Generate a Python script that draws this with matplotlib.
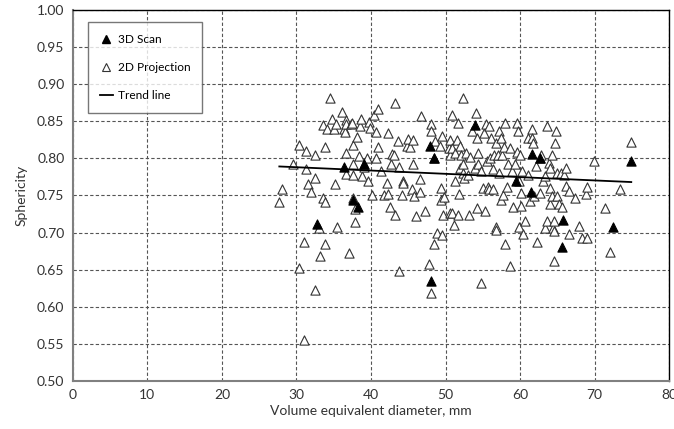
import matplotlib
matplotlib.use("Agg")
import matplotlib.pyplot as plt
from matplotlib.lines import Line2D

plt.rcParams['font.family'] = ['Lato', 'DejaVu Sans']

# 2D projection points (diameter mm, sphericity)
proj_x = [27.7, 28.1, 29.6, 30.3, 30.3, 31.0, 31.0, 31.3, 31.3, 31.5, 31.9, 32.5, 32.5, 32.5,
          33.0, 33.2, 33.5, 33.6, 33.8, 33.8, 33.8, 34.1, 34.5, 34.7, 35.0, 35.2, 35.3, 35.5,
          36.1, 36.4, 36.5, 36.6, 36.6, 36.7, 36.7, 37.1, 37.3, 37.5, 37.6, 37.6, 37.6, 37.6,
          37.8, 37.9, 38.1, 38.4, 38.5, 38.7, 38.8, 39.0, 39.1, 39.5, 39.6, 39.7, 39.8, 40.1,
          40.4, 40.7, 40.9, 41.0, 40.7, 41.4, 41.7, 42.1, 42.3, 42.3, 42.6, 42.7, 42.8, 43.1,
          43.2, 43.2, 43.6, 43.8, 43.8, 44.2, 44.3, 44.3, 44.8, 45.0, 45.2, 45.5, 45.6, 45.6,
          45.8, 46.0, 46.5, 46.6, 46.7, 47.2, 47.8, 48.0, 48.1, 48.1, 48.4, 48.4, 48.6, 48.9,
          49.2, 49.4, 49.4, 49.5, 49.5, 49.6, 49.8, 50.4, 50.6, 50.6, 50.6, 50.9, 50.9, 50.9,
          51.1, 51.2, 51.3, 51.5, 51.7, 51.7, 51.8, 51.9, 51.9, 52.1, 52.3, 52.4, 52.4, 52.5,
          52.7, 53.0, 53.1, 53.3, 53.5, 53.9, 54.1, 54.2, 54.2, 54.4, 54.4, 54.7, 54.8, 55.0,
          55.1, 55.3, 55.4, 55.5, 55.7, 55.8, 55.8, 55.9, 56.1, 56.3, 56.4, 56.5, 56.7, 56.7,
          56.8, 57.0, 57.2, 57.2, 57.4, 57.4, 57.5, 57.7, 57.8, 58.0, 58.0, 58.2, 58.4, 58.6,
          58.7, 58.9, 59.1, 59.3, 59.6, 59.6, 59.7, 59.8, 59.9, 60.0, 60.1, 60.1, 60.3, 60.4,
          60.6, 61.0, 61.1, 61.3, 61.6, 61.6, 61.7, 61.8, 62.1, 62.3, 62.6, 62.7, 62.8, 63.0,
          63.3, 63.3, 63.6, 63.6, 63.9, 64.0, 64.0, 64.0, 64.3, 64.3, 64.4, 64.5, 64.6, 64.6,
          64.7, 64.8, 64.9, 64.9, 65.2, 65.5, 65.6, 65.9, 66.2, 66.2, 66.5, 66.6, 67.3, 67.9,
          68.3, 68.8, 68.9, 69.0, 69.9, 71.4, 72.1, 73.4, 74.8]
proj_y = [0.741, 0.758, 0.792, 0.818, 0.652, 0.687, 0.555, 0.786, 0.810, 0.765, 0.754, 0.805, 0.774, 0.622,
          0.706, 0.668, 0.845, 0.747, 0.741, 0.684, 0.815, 0.839, 0.881, 0.853, 0.840, 0.766, 0.846, 0.708,
          0.863, 0.839, 0.836, 0.851, 0.807, 0.779, 0.846, 0.673, 0.846, 0.848, 0.818, 0.792, 0.777, 0.746,
          0.732, 0.714, 0.829, 0.803, 0.844, 0.853, 0.776, 0.788, 0.792, 0.800, 0.770, 0.849, 0.841, 0.751,
          0.858, 0.835, 0.867, 0.815, 0.801, 0.783, 0.751, 0.767, 0.834, 0.752, 0.735, 0.792, 0.806, 0.805,
          0.875, 0.724, 0.823, 0.788, 0.648, 0.750, 0.769, 0.767, 0.817, 0.826, 0.815, 0.758, 0.792, 0.824,
          0.749, 0.722, 0.772, 0.755, 0.857, 0.729, 0.658, 0.618, 0.846, 0.837, 0.801, 0.685, 0.823, 0.699,
          0.816, 0.760, 0.744, 0.830, 0.696, 0.724, 0.748, 0.814, 0.824, 0.804, 0.726, 0.858, 0.814, 0.726,
          0.710, 0.769, 0.807, 0.825, 0.847, 0.723, 0.752, 0.787, 0.816, 0.805, 0.780, 0.792, 0.881, 0.774,
          0.807, 0.778, 0.724, 0.802, 0.837, 0.787, 0.861, 0.827, 0.733, 0.792, 0.807, 0.632, 0.783, 0.760,
          0.834, 0.729, 0.846, 0.797, 0.762, 0.843, 0.758, 0.801, 0.827, 0.785, 0.758, 0.804, 0.820, 0.707,
          0.703, 0.805, 0.837, 0.780, 0.744, 0.827, 0.805, 0.750, 0.815, 0.848, 0.685, 0.762, 0.792, 0.655,
          0.814, 0.783, 0.734, 0.792, 0.847, 0.809, 0.837, 0.769, 0.707, 0.804, 0.753, 0.736, 0.783, 0.698,
          0.715, 0.827, 0.777, 0.743, 0.839, 0.827, 0.820, 0.749, 0.789, 0.687, 0.753, 0.800, 0.804, 0.769,
          0.776, 0.706, 0.844, 0.715, 0.794, 0.760, 0.738, 0.787, 0.805, 0.749, 0.706, 0.661, 0.702, 0.715,
          0.820, 0.837, 0.780, 0.749, 0.738, 0.780, 0.735, 0.778, 0.787, 0.763, 0.698, 0.756, 0.747, 0.709,
          0.692, 0.752, 0.693, 0.761, 0.797, 0.733, 0.674, 0.758, 0.822]

# 3D scan points
scan_x = [32.8, 36.4, 37.6, 38.3, 39.0, 47.9, 48.4, 48.0, 53.9, 59.4, 61.6, 61.4, 62.6, 65.8, 65.6, 72.5, 74.8]
scan_y = [0.712, 0.788, 0.744, 0.735, 0.792, 0.816, 0.800, 0.635, 0.845, 0.770, 0.806, 0.755, 0.801, 0.717,
          0.681, 0.707, 0.796]

# trend line end points
trend_x = [27.7, 74.9]
trend_y = [0.789, 0.768]

fig = plt.figure(figsize=(6.74, 4.29), dpi=100)
ax = fig.add_axes([0.108, 0.112, 0.885, 0.865])

ax.scatter(proj_x, proj_y, marker='^', s=44, facecolors='white', edgecolors='#333333', linewidths=0.8, zorder=3)
ax.scatter(scan_x, scan_y, marker='^', s=44, facecolors='black', edgecolors='black', linewidths=0.8, zorder=4)
ax.plot(trend_x, trend_y, color='black', lw=1.3, zorder=5)

ax.set_xlim(0, 80)
ax.set_ylim(0.5, 1.0)
ax.set_xticks(range(0, 81, 10))
ax.set_yticks([0.5 + 0.05 * i for i in range(11)])
ax.set_yticklabels([f"{0.5 + 0.05 * i:.2f}" for i in range(11)])
ax.grid(True, linestyle=(0, (3, 2)), color='#555555', lw=0.8)
ax.set_axisbelow(True)
ax.tick_params(length=0, labelsize=10, colors='#333333', pad=6)

for s in ['left', 'bottom']:
    ax.spines[s].set_color('#808080')
    ax.spines[s].set_linewidth(1.5)
for s in ['top', 'right']:
    ax.spines[s].set_color('black')
    ax.spines[s].set_linewidth(1.0)

ax.set_xlabel("Volume equivalent diameter, mm", fontsize=10, color='#333333', labelpad=3)
ax.set_ylabel("Sphericity", fontsize=10, color='#333333', labelpad=7)

handles = [
    Line2D([], [], marker='^', ls='none', color='black', markersize=6),
    Line2D([], [], marker='^', ls='none', markerfacecolor='white', markeredgecolor='#333333', markersize=6,
           markeredgewidth=0.8),
    Line2D([], [], color='black', lw=1.3),
]
leg = ax.legend(handles, ["3D Scan", "2D Projection", "Trend line"], loc='upper left',
                bbox_to_anchor=(0.025, 0.968), fontsize=8.6, frameon=True, fancybox=False,
                edgecolor='#555555', labelspacing=1.45, handlelength=1.1, handletextpad=0.4,
                borderpad=1.0, borderaxespad=0)
leg.get_frame().set_linewidth(1.0)

fig.savefig("out.png", dpi=100)
